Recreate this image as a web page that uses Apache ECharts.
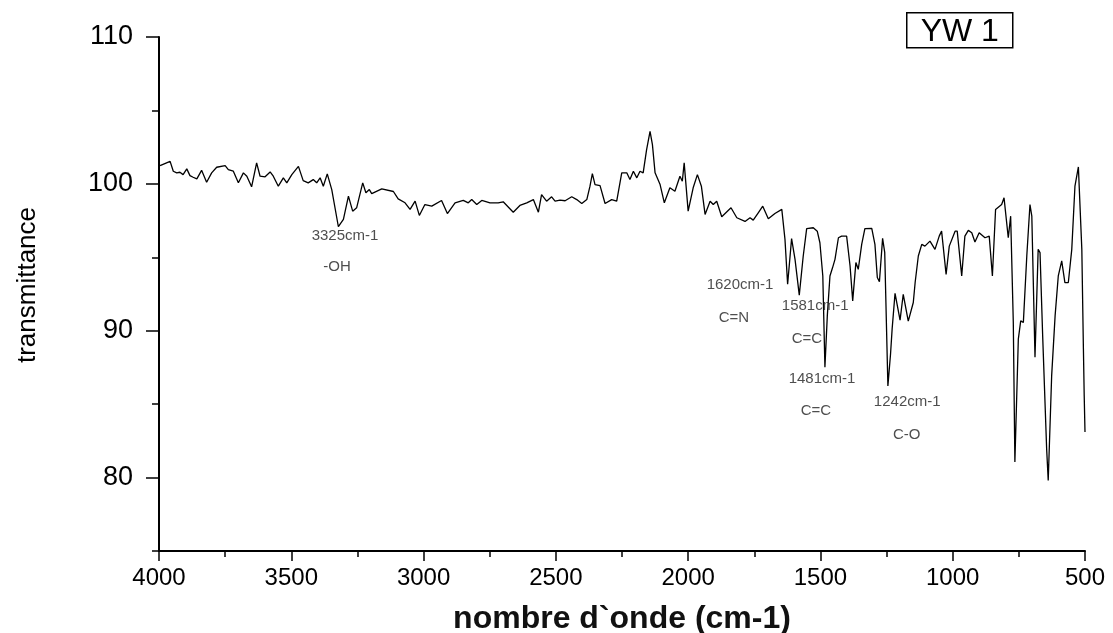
<!DOCTYPE html>
<html>
<head>
<meta charset="utf-8">
<title>YW 1</title>
<script src="https://cdn.jsdelivr.net/npm/echarts@6/dist/echarts.min.js"></script>
<style>
  html, body { margin: 0; padding: 0; background: #fff; }
  #chart { width: 1113px; height: 633px; }
</style>
</head>
<body>
<div id="chart"></div>
<script>
// spectrum (cm-1 / transmittance)
var wavenumber = [
  3996, 3958, 3946, 3933, 3921, 3909, 3895, 3883, 3871, 3857, 3839, 3820, 3801, 3782, 3750, 3738,
  3719, 3700, 3681, 3668, 3650, 3631, 3618, 3599, 3580, 3568, 3549, 3530, 3517, 3498, 3473, 3455,
  3436, 3417, 3404, 3391, 3379, 3364, 3347, 3322, 3303, 3284, 3268, 3253, 3230, 3218, 3205, 3196,
  3158, 3114, 3096, 3070, 3051, 3032, 3016, 2995, 2969, 2932, 2910, 2881, 2850, 2831, 2818, 2799,
  2780, 2749, 2718, 2699, 2661, 2636, 2610, 2585, 2566, 2554, 2535, 2516, 2503, 2484, 2465, 2440,
  2421, 2402, 2383, 2371, 2362, 2352, 2333, 2314, 2289, 2270, 2251, 2232, 2220, 2207, 2194, 2182,
  2170, 2157, 2144, 2135, 2125, 2106, 2090, 2069, 2050, 2031, 2022, 2015, 2000, 1981, 1965, 1950,
  1936, 1917, 1905, 1892, 1873, 1838, 1816, 1785, 1766, 1754, 1735, 1718, 1697, 1672, 1646, 1634,
  1624, 1609, 1596, 1580, 1565, 1552, 1527, 1512, 1502, 1491, 1483, 1474, 1464, 1454, 1445, 1432,
  1420, 1401, 1388, 1378, 1366, 1357, 1344, 1332, 1306, 1294, 1285, 1277, 1265, 1257, 1245, 1235,
  1229, 1218, 1199, 1187, 1168, 1149, 1142, 1130, 1117, 1105, 1086, 1067, 1051, 1042, 1025, 1013,
  991, 983, 966, 954, 941, 928, 916, 900, 878, 862, 850, 838, 815, 806, 790, 781,
  771, 765, 752, 743, 733, 720, 708, 701, 689, 677, 670, 660, 645, 639, 626, 613,
  601, 588, 576, 563, 550, 538, 525, 512, 506, 503, 500
]
var transmittance = [
  101.24, 101.53, 100.86, 100.75, 100.79, 100.63, 101.02, 100.56, 100.45, 100.34, 100.92, 100.11, 100.75, 101.13, 101.24, 100.97,
  100.86, 100.07, 100.75, 100.52, 99.80, 101.43, 100.52, 100.48, 100.81, 100.52, 99.84, 100.41, 100.07, 100.63, 101.19, 100.22,
  100.07, 100.29, 100.07, 100.41, 99.84, 100.68, 99.61, 97.08, 97.58, 99.16, 98.14, 98.37, 100.07, 99.39, 99.61, 99.34,
  99.66, 99.48, 98.98, 98.71, 98.26, 98.82, 97.85, 98.59, 98.48, 98.87, 97.98, 98.71, 98.87, 98.71, 98.93, 98.59,
  98.87, 98.71, 98.71, 98.78, 98.07, 98.53, 98.71, 98.93, 98.07, 99.27, 98.82, 99.12, 98.82, 98.89, 98.85, 99.12,
  98.93, 98.66, 98.93, 99.84, 100.70, 99.95, 99.88, 98.66, 98.93, 98.82, 100.75, 100.75, 100.29, 100.86, 100.41, 100.86,
  100.75, 102.33, 103.57, 102.67, 100.75, 99.95, 98.71, 99.73, 99.50, 100.52, 100.18, 101.43, 98.14, 99.73, 100.63, 99.84,
  97.92, 98.82, 98.59, 98.82, 97.76, 98.37, 97.69, 97.44, 97.69, 97.53, 98.03, 98.48, 97.62, 97.98, 98.26, 96.22,
  93.16, 96.27, 94.86, 92.42, 95.09, 96.95, 97.01, 96.78, 95.99, 93.73, 87.51, 91.01, 93.73, 94.30, 94.86, 96.33,
  96.44, 96.44, 94.41, 92.03, 94.64, 94.18, 95.88, 96.95, 96.97, 95.88, 93.62, 93.33, 96.29, 95.34, 86.24, 88.41,
  90.11, 92.55, 90.72, 92.48, 90.65, 91.92, 93.28, 95.09, 95.88, 95.76, 96.10, 95.54, 96.44, 96.78, 93.84, 95.76,
  96.78, 96.78, 93.73, 96.44, 96.83, 96.67, 96.04, 96.67, 96.33, 96.44, 93.73, 98.26, 98.59, 99.05, 96.33, 97.80,
  90.56, 81.06, 89.43, 90.67, 90.56, 95.09, 98.59, 97.80, 88.20, 95.54, 95.32, 89.65, 81.96, 79.81, 86.94, 91.01,
  93.73, 94.75, 93.28, 93.28, 95.54, 99.84, 101.15, 95.54, 88.75, 85.58, 83.10
]

// peak notes, placed in data units
var noteText = ['3325cm-1', '-OH', '1620cm-1', 'C=N', '1581cm-1', 'C=C', '1481cm-1', 'C=C', '1242cm-1', 'C-O']
var noteWn = [3297, 3327, 1804, 1827, 1520, 1551, 1494, 1517, 1172, 1174]
var noteT = [96.49, 94.32, 93.10, 90.86, 91.67, 89.43, 86.71, 84.54, 85.15, 82.91]

var yMajor = [80, 90, 100, 110]
var yMinor = [75, 85, 95, 105]

var font = 'Arial, "Liberation Sans", sans-serif'

var chart = echarts.init(document.getElementById('chart'))

var lineData = wavenumber.map(function (w, i) { return [w, transmittance[i]] })
var noteData = noteText.map(function (t, i) { return [noteWn[i], noteT[i], t] })

chart.setOption({
  animation: false,
  backgroundColor: '#fff',
  grid: { left: 159, right: 28, top: 37, bottom: 82, outerBoundsMode: 'none' },
  xAxis: {
    type: 'value',
    min: 500,
    max: 4000,
    interval: 500,
    inverse: true,
    name: 'nombre d`onde (cm-1)',
    nameLocation: 'middle',
    nameGap: 52,
    nameTextStyle: { fontFamily: font, fontSize: 32, fontWeight: 'bold', color: '#111' },
    axisLine: { lineStyle: { color: '#000', width: 2 } },
    axisTick: { length: 10, lineStyle: { color: '#000', width: 1.5 } },
    minorTick: { show: true, splitNumber: 2, length: 6, lineStyle: { color: '#000', width: 1.5 } },
    axisLabel: {
      fontFamily: font, fontSize: 24, color: '#000', margin: 15,
      formatter: function (v) { return String(v) }
    },
    splitLine: { show: false }
  },
  yAxis: [
    {
      type: 'value',
      min: 75,
      max: 110,
      interval: 5,
      name: 'transmittance',
      nameLocation: 'middle',
      nameGap: 118,
      nameRotate: 90,
      nameTextStyle: { fontFamily: font, fontSize: 26, color: '#000', padding: [0, 0, 0, 18] },
      axisLine: { show: true, lineStyle: { color: '#000', width: 2 } },
      axisTick: { customValues: yMajor, length: 13, lineStyle: { color: '#000', width: 1.5 } },
      axisLabel: { customValues: yMajor, fontFamily: font, fontSize: 27, color: '#000', margin: 26 },
      splitLine: { show: false }
    },
    {
      type: 'value',
      min: 75,
      max: 110,
      interval: 5,
      position: 'left',
      axisLine: { show: false },
      axisTick: { show: true, customValues: yMinor, length: 7, lineStyle: { color: '#000', width: 1.5 } },
      axisLabel: { show: false },
      splitLine: { show: false }
    }
  ],
  series: [
    {
      type: 'line',
      data: lineData,
      showSymbol: false,
      lineStyle: { color: '#000', width: 1.3 },
      z: 3
    },
    {
      type: 'scatter',
      data: noteData,
      symbolSize: 0,
      label: {
        show: true,
        position: 'inside',
        formatter: function (p) { return p.data[2] },
        fontFamily: font,
        fontSize: 15,
        color: '#222'
      },
      z: 4
    }
  ],
  graphic: [
    {
      type: 'group',
      left: 906,
      top: 12,
      children: [
        {
          type: 'rect',
          shape: { x: 0, y: 0, width: 106, height: 35 },
          style: { fill: '#fff', stroke: '#000', lineWidth: 1.5 }
        },
        {
          type: 'text',
          x: 53,
          y: 19,
          style: {
            text: 'YW 1',
            fontFamily: font,
            fontSize: 32,
            fill: '#000',
            align: 'center',
            verticalAlign: 'middle'
          }
        }
      ]
    }
  ]
})
</script>
</body>
</html>
